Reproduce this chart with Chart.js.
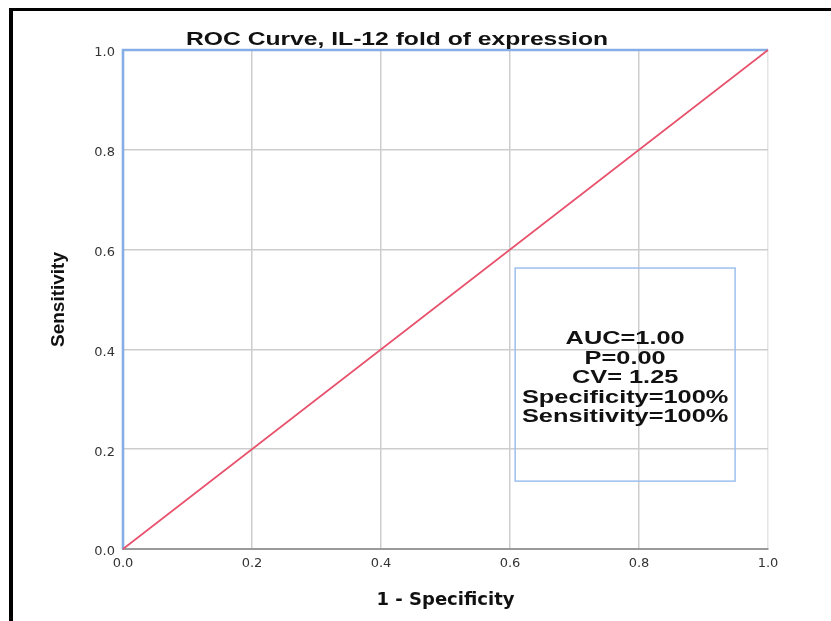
<!DOCTYPE html>
<html>
<head>
<meta charset="utf-8">
<script src="https://cdn.jsdelivr.net/npm/chart.js@4.4.1/dist/chart.umd.min.js"></script>
<style>
  html, body { margin: 0; padding: 0; background: #fff; }
</style>
</head>
<body>
<canvas id="roc" width="831" height="621"></canvas>
<script>
// ROC curve: 1 - specificity (x) vs sensitivity (y)
const rocFpr = [0, 0, 1];
const rocTpr = [0, 1, 1];
// reference diagonal
const refFpr = [0, 1];
const refTpr = [0, 1];

const tickValues = [0, 0.2, 0.4, 0.6, 0.8, 1];
const tickLabels = ['0.0', '0.2', '0.4', '0.6', '0.8', '1.0'];

const chartTitle = 'ROC Curve, IL-12 fold of expression';
const statLines = ['AUC=1.00', 'P=0.00', 'CV= 1.25', 'Specificity=100%', 'Sensitivity=100%'];

// the source image is stretched sideways, so the drawn texts are too
const STRETCH = 1.37;

function stretchedText(ctx, text, x, y, font) {
  ctx.save();
  ctx.font = font;
  ctx.fillStyle = '#111';
  ctx.textAlign = 'center';
  ctx.textBaseline = 'alphabetic';
  ctx.translate(x, y);
  ctx.scale(STRETCH, 1);
  ctx.fillText(text, 0, 0);
  ctx.restore();
}

const decor = {
  id: 'decor',
  beforeDraw(chart) {
    const ctx = chart.ctx;
    ctx.save();
    ctx.fillStyle = '#fff';
    ctx.fillRect(0, 0, chart.width, chart.height);
    // black frame (top + left)
    ctx.fillStyle = '#000';
    ctx.fillRect(9, 8, chart.width - 9, 3);
    ctx.fillRect(9, 8, 4, chart.height - 8);
    ctx.restore();
  },
  afterDraw(chart) {
    const ctx = chart.ctx;
    const { x, y } = chart.scales;
    stretchedText(ctx, chartTitle, 397, 45, 'bold 18px "Liberation Sans", Arial, sans-serif');

    // stats box
    const bx0 = x.getPixelForValue(0.608), bx1 = x.getPixelForValue(0.949);
    const by0 = y.getPixelForValue(0.563), by1 = y.getPixelForValue(0.136);
    ctx.save();
    ctx.strokeStyle = '#9dc0ee';
    ctx.lineWidth = 1.5;
    ctx.strokeRect(bx0, by0, bx1 - bx0, by1 - by0);
    ctx.restore();

    const lh = 19.5;
    const cx = (bx0 + bx1) / 2;
    const firstBase = (by0 + by1) / 2 - (statLines.length - 1) * lh / 2 + 8.5;
    statLines.forEach((t, i) => {
      stretchedText(ctx, t, cx, firstBase + i * lh, 'bold 18.5px "Liberation Sans", Arial, sans-serif');
    });
  }
};

new Chart(document.getElementById('roc'), {
  type: 'line',
  data: {
    datasets: [
      {
        label: 'Reference',
        data: refFpr.map((v, i) => ({ x: v, y: refTpr[i] })),
        borderColor: '#e8506b',
        borderWidth: 1.6,
        pointRadius: 0,
        tension: 0,
        clip: 4,
      },
      {
        label: 'ROC',
        data: rocFpr.map((v, i) => ({ x: v, y: rocTpr[i] })),
        borderColor: '#86aee6',
        borderWidth: 2.6,
        pointRadius: 0,
        tension: 0,
        clip: 4,
      },
    ],
  },
  options: {
    responsive: false,
    animation: false,
    layout: { padding: { left: 0, top: 50, right: 63, bottom: 0 } },
    plugins: {
      legend: { display: false },
      tooltip: { enabled: false },
    },
    scales: {
      x: {
        type: 'linear',
        min: 0,
        max: 1,
        afterBuildTicks: s => { s.ticks = tickValues.map(v => ({ value: v })); },
        afterFit: s => { s.height = 72; },
        ticks: {
          padding: 7,
          color: '#333',
          font: { family: '"DejaVu Sans", sans-serif', size: 13 },
          callback: (v, i) => tickLabels[i],
        },
        grid: {
          drawTicks: false,
          lineWidth: 1.5,
          color: c => (c.tick && c.tick.value === 1 ? '#e4e4e4' : '#cdcdcd'),
        },
        border: { display: true, color: '#9a9a9a', width: 2 },
        title: {
          display: true,
          text: '1 - Specificity',
          color: '#111',
          font: { family: '"DejaVu Sans", sans-serif', size: 18, weight: 'bold' },
          padding: { top: 0, bottom: 10 },
        },
      },
      y: {
        type: 'linear',
        min: 0,
        max: 1,
        afterBuildTicks: s => { s.ticks = tickValues.map(v => ({ value: v })); },
        afterFit: s => { s.width = 123; },
        ticks: {
          padding: 8,
          labelOffset: 3,
          color: '#333',
          font: { family: '"DejaVu Sans", sans-serif', size: 13 },
          callback: (v, i) => tickLabels[i],
        },
        grid: {
          drawTicks: false,
          lineWidth: c => (c.tick && c.tick.value === 0 ? 2 : 1.5),
          color: c => (c.tick && c.tick.value === 0 ? '#9a9a9a' : '#cdcdcd'),
        },
        border: { display: false },
        title: {
          display: true,
          text: 'Sensitivity',
          color: '#111',
          font: { family: '"Liberation Sans", Arial, sans-serif', size: 19, weight: 'bold' },
          padding: { top: 47, bottom: 0 },
        },
      },
    },
  },
  plugins: [decor],
});
</script>
</body>
</html>
